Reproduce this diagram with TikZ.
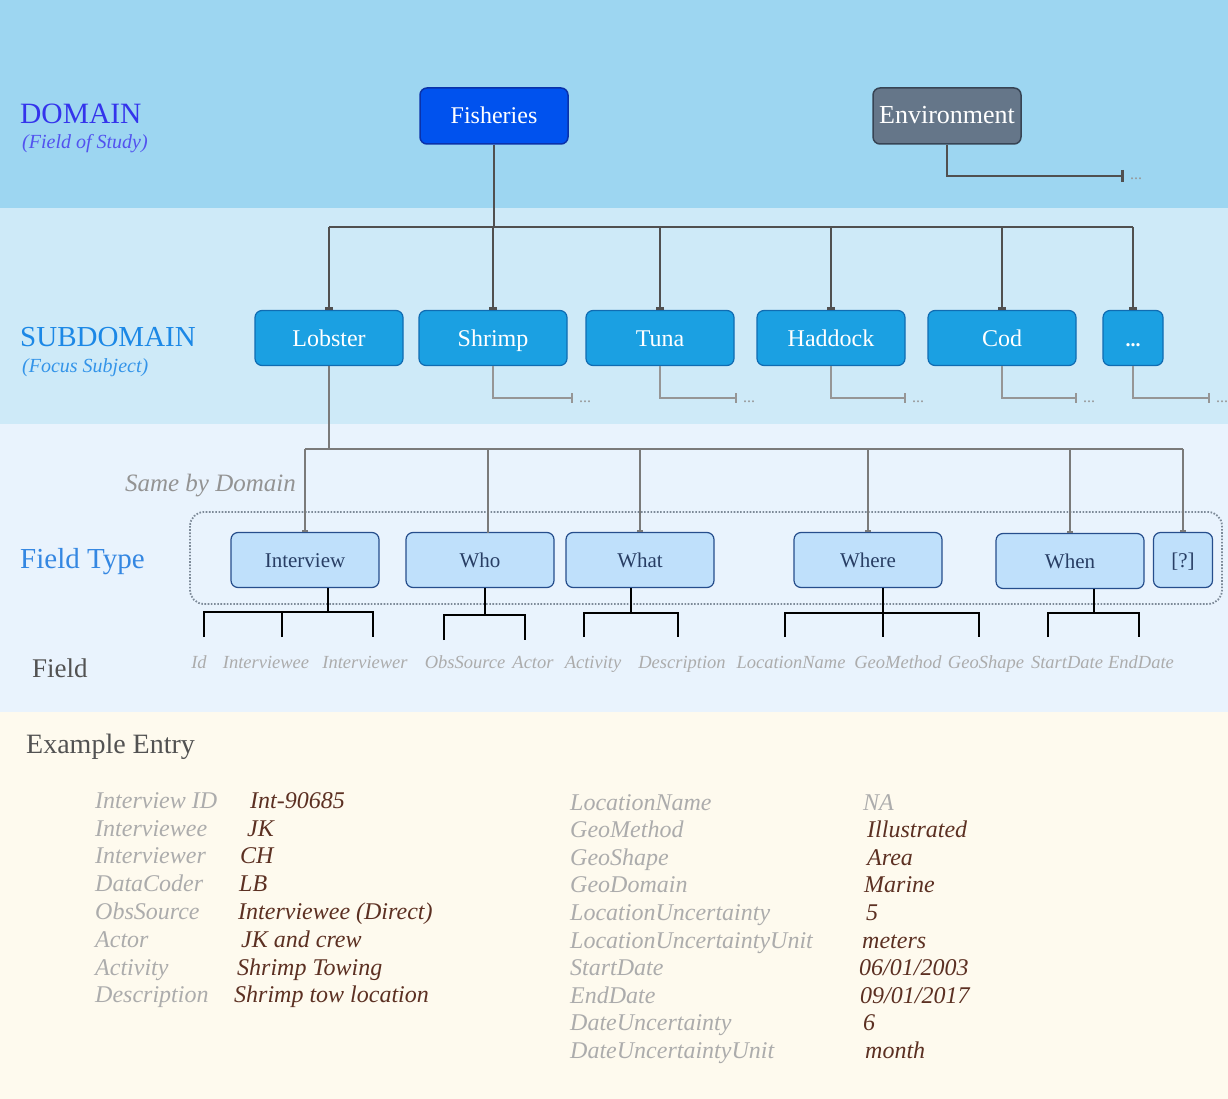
\documentclass[tikz,border=0pt]{standalone}
\usepackage{fontspec}
\setmainfont{Liberation Serif}
\usetikzlibrary{arrows.meta,positioning}

\definecolor{bandtop}{RGB}{157,214,241}
\definecolor{bandsub}{RGB}{206,234,248}
\definecolor{bandfield}{RGB}{233,243,253}
\definecolor{bandentry}{RGB}{254,250,238}
\definecolor{fishblue}{RGB}{0,82,238}
\definecolor{fishedge}{RGB}{10,50,170}
\definecolor{envslate}{RGB}{101,118,137}
\definecolor{envedge}{RGB}{55,68,84}
\definecolor{subblue}{RGB}{27,160,226}
\definecolor{subedge}{RGB}{16,108,178}
\definecolor{typeblue}{RGB}{191,224,251}
\definecolor{typeedge}{RGB}{38,78,140}
\definecolor{typetext}{RGB}{40,62,100}
\definecolor{linedark}{RGB}{80,80,80}
\definecolor{linegray}{RGB}{122,122,122}
\definecolor{twiggray}{RGB}{150,150,150}
\definecolor{framegray}{RGB}{125,138,152}
\definecolor{labelgray}{RGB}{172,172,172}
\definecolor{valuebrown}{RGB}{92,48,34}
\definecolor{domaintext}{RGB}{52,52,236}
\definecolor{subtext}{RGB}{28,136,230}
\definecolor{typelabel}{RGB}{52,135,226}
\definecolor{darktext}{RGB}{82,82,82}

\newcommand{\fsz}[1]{\fontsize{#1}{#1}\selectfont}

\begin{document}
\begin{tikzpicture}[x=1pt, y=-1pt, every node/.style={inner sep=0pt},
	domainbox/.style={draw, rounded corners=7pt, line width=1.5pt, minimum width=148pt, minimum height=56pt, text=white, font=\fsz{24}, text height=16pt, text depth=0pt},
	subbox/.style={draw=subedge, fill=subblue, rounded corners=7pt, line width=1.2pt, minimum width=148pt, minimum height=55pt, text=white, font=\fsz{24}, text height=16pt, text depth=0pt},
	typebox/.style={draw=typeedge, fill=typeblue, rounded corners=7pt, line width=1.2pt, minimum width=148pt, minimum height=55pt, text=typetext, font=\fsz{21}, text height=15pt, text depth=0pt},
	trunk/.style={draw=linedark, line width=2.8pt},
	branch/.style={draw=linegray, line width=1.9pt},
	twig/.style={draw=twiggray, line width=1.6pt, -{Bar[width=10pt]}},
	fieldline/.style={draw=black, line width=2.3pt},
	dots/.style={anchor=base west, text=twiggray, font=\fsz{16}},
	fieldlbl/.style={anchor=base, text=labelgray, font=\itshape\fsz{18.5}},
	entrykey/.style={anchor=base west, text=labelgray, font=\itshape\fsz{24}},
	entryval/.style={anchor=base west, text=valuebrown, font=\itshape\fsz{24}}]
	\useasboundingbox (0,0) rectangle (1228,1099);
	% bands
	\fill[bandtop] (0,0) rectangle (1228,208);
	\fill[bandsub] (0,208) rectangle (1228,424);
	\fill[bandfield] (0,424) rectangle (1228,712);
	\fill[bandentry] (0,712) rectangle (1228,1099);

	% level titles
	\node[anchor=base west, text=domaintext, font=\fsz{29.5}] (domainlbl) at (20,124) {DOMAIN};
	\node[anchor=base west, text=domaintext!85, font=\itshape\fsz{20}] (domainnote) at (22,149) {(Field of Study)};
	\node[anchor=base west, text=subtext, font=\fsz{29}] (sublbl) at (20,346) {SUBDOMAIN};
	\node[anchor=base west, text=subtext!90, font=\itshape\fsz{20}] (subnote) at (22,372) {(Focus Subject)};
	\node[anchor=base west, text=typelabel, font=\fsz{29}] (typelbl) at (20,568) {Field Type};
	\node[anchor=base east, text=gray!85, font=\itshape\fsz{25}] (samelbl) at (296,491) {Same by Domain};
	\node[anchor=base west, text=darktext, font=\fsz{27}] (fieldlbl) at (32,677) {Field};
	\node[anchor=base west, text=darktext, font=\fsz{28}] (entrylbl) at (26,753) {Example Entry};

	% domains
	\node[domainbox, draw=fishedge, fill=fishblue] (fisheries) at (494,116) {Fisheries};
	\node[domainbox, draw=envedge, fill=envslate, font=\fsz{26}] (environment) at (947,116) {Environment};
	\coordinate (envend) at (1124,176);
	\draw[trunk, -{Bar[width=12pt]}] (environment.south) |- (envend);
	\node[dots] (envdots) at (1130,180) {...};

	% subdomains
	\node[subbox] (lobster) at (329,338) {Lobster};
	\node[subbox] (shrimp) at (493,338) {Shrimp};
	\node[subbox] (tuna) at (660,338) {Tuna};
	\node[subbox] (haddock) at (831,338) {Haddock};
	\node[subbox] (cod) at (1002,338) {Cod};
	\node[subbox, minimum width=60pt, font=\bfseries\fsz{20}] (more) at (1133,338) {...};
	\coordinate (hub) at (494,227);
	\draw[trunk] (fisheries.south) -- (hub);
	\draw[trunk] (lobster.north |- hub) -- (more.north |- hub);
	\foreach \n in {lobster,shrimp,tuna,haddock,cod,more}
		\draw[trunk, -{Bar[width=8pt]}] (\n.north |- hub) -- (\n.north);
	\foreach \n/\e in {shrimp/573,tuna/737,haddock/906,cod/1077,more/1210} {
		\coordinate (\n end) at (\e,398);
		\draw[twig] (\n.south) |- (\n end);
		\node[dots] (\n dots) at (\e+6,402) {...};
	}

	% field types
	\draw[draw=framegray, line width=1.8pt, dash pattern=on 1.6pt off 1.6pt, rounded corners=14pt] (190,512) rectangle (1222,604);
	\node[typebox] (interview) at (305,560) {Interview};
	\node[typebox] (who) at (480,560) {Who};
	\node[typebox] (what) at (640,560) {What};
	\node[typebox] (where) at (868,560) {Where};
	\node[typebox] (when) at (1070,561) {When};
	\node[typebox, minimum width=59pt] (qmark) at (1183,560) {[?]};
	\coordinate (split) at (329,449);
	\coordinate (whotop) at (488,533);
	\draw[branch] (lobster.south) -- (split);
	\draw[branch] (interview.north |- split) -- (qmark.north |- split);
	\foreach \n in {interview,what,where,when,qmark}
		\draw[branch, -{Bar[width=6pt]}] (\n.north |- split) -- (\n.north);
	\draw[branch] (whotop |- split) -- (whotop);

	% fields
	\coordinate (ivbar) at (328,612);
	\coordinate (ivA) at (204,637);
	\coordinate (ivB) at (282,637);
	\coordinate (ivC) at (373,637);
	\draw[fieldline] (interview.south -| ivbar) -- (ivbar);
	\draw[fieldline] (ivA) |- (ivbar) -| (ivC);
	\draw[fieldline] (ivB) -- (ivB |- ivbar);
	\coordinate (whobar) at (485,615);
	\coordinate (whoA) at (444,640);
	\coordinate (whoB) at (525,640);
	\draw[fieldline] (who.south -| whobar) -- (whobar);
	\draw[fieldline] (whoA) |- (whobar) -| (whoB);
	\coordinate (whatbar) at (631,613);
	\coordinate (whatA) at (584,637);
	\coordinate (whatB) at (678,637);
	\draw[fieldline] (what.south -| whatbar) -- (whatbar);
	\draw[fieldline] (whatA) |- (whatbar) -| (whatB);
	\coordinate (wherebar) at (883,613);
	\coordinate (whereA) at (785,637);
	\coordinate (whereB) at (883,637);
	\coordinate (whereC) at (979,637);
	\draw[fieldline] (where.south -| wherebar) -- (whereB);
	\draw[fieldline] (whereA) |- (wherebar) -| (whereC);
	\coordinate (whenbar) at (1094,613);
	\coordinate (whenA) at (1048,637);
	\coordinate (whenB) at (1139,637);
	\draw[fieldline] (when.south -| whenbar) -- (whenbar);
	\draw[fieldline] (whenA) |- (whenbar) -| (whenB);
	\foreach \n/\t/\x in {fid/Id/199, fiwee/Interviewee/266, fiwer/Interviewer/365, fobs/ObsSource/465, factor/Actor/533,
		fact/Activity/593, fdesc/Description/682, floc/LocationName/791, fgeom/GeoMethod/898, fgeos/GeoShape/986,
		fstart/StartDate/1067, fend/EndDate/1141}
		\node[fieldlbl] (\n) at (\x,668) {\t};

	% example entry
	\foreach \k/\v/\vx/\yy [count=\i] in {Interview ID/Int-90685/250/808, Interviewee/JK/247/836, Interviewer/CH/240/863,
		DataCoder/LB/239/891, ObsSource/Interviewee (Direct)/238/919, Actor/JK and crew/241/947,
		Activity/Shrimp Towing/237/975, Description/Shrimp tow location/234/1002} {
		\node[entrykey] (keyl\i) at (95,\yy) {\k};
		\node[entryval] (vall\i) at (\vx,\yy) {\v};
	}
	\foreach \k/\v/\vx/\yy [count=\i] in {LocationName/{\color{labelgray}NA}/863/810, GeoMethod/Illustrated/867/837,
		GeoShape/Area/867/865, GeoDomain/Marine/864/892, LocationUncertainty/5/866/920,
		LocationUncertaintyUnit/meters/862/948, StartDate/06\slash 01\slash 2003/859/975,
		EndDate/09\slash 01\slash 2017/860/1003, DateUncertainty/6/863/1030, DateUncertaintyUnit/month/865/1058} {
		\node[entrykey] (keyr\i) at (570,\yy) {\k};
		\node[entryval] (valr\i) at (\vx,\yy) {\v};
	}
\end{tikzpicture}
\end{document}
